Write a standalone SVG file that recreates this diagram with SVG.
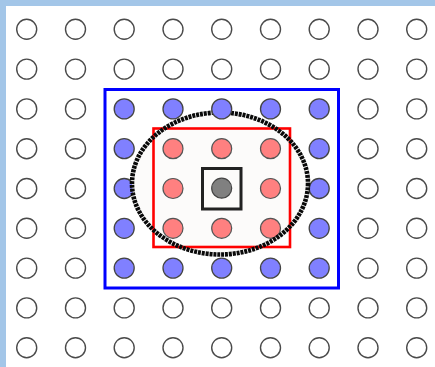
<svg xmlns="http://www.w3.org/2000/svg" width="435" height="367" viewBox="0 0 435 367">
<defs>
<style>
.w{fill:#fff;stroke:#4a4a4a;stroke-width:1.4}
.b{fill:#8080ff;stroke:#444;stroke-width:1.3}
.r{fill:#ff8080;stroke:#555;stroke-width:1.2}
.g{fill:#808080;stroke:#444;stroke-width:1.2}
</style>
</defs>
<rect x="0" y="0" width="435" height="367" fill="#a3c6e8"/>
<rect x="6" y="6" width="429" height="361" fill="#fff"/>
<g id="grid">
<g class="w">
<circle cx="26.7" cy="29.3" r="10"/><circle cx="75.5" cy="29.3" r="10"/><circle cx="124.2" cy="29.3" r="10"/><circle cx="173" cy="29.3" r="10"/><circle cx="221.7" cy="29.3" r="10"/><circle cx="270.5" cy="29.3" r="10"/><circle cx="319.2" cy="29.3" r="10"/><circle cx="368" cy="29.3" r="10"/><circle cx="416.7" cy="29.3" r="10"/>
<circle cx="26.7" cy="69.1" r="10"/><circle cx="75.5" cy="69.1" r="10"/><circle cx="124.2" cy="69.1" r="10"/><circle cx="173" cy="69.1" r="10"/><circle cx="221.7" cy="69.1" r="10"/><circle cx="270.5" cy="69.1" r="10"/><circle cx="319.2" cy="69.1" r="10"/><circle cx="368" cy="69.1" r="10"/><circle cx="416.7" cy="69.1" r="10"/>
<circle cx="26.7" cy="108.9" r="10"/><circle cx="75.5" cy="108.9" r="10"/><circle cx="368" cy="108.9" r="10"/><circle cx="416.7" cy="108.9" r="10"/>
<circle cx="26.7" cy="148.7" r="10"/><circle cx="75.5" cy="148.7" r="10"/><circle cx="368" cy="148.7" r="10"/><circle cx="416.7" cy="148.7" r="10"/>
<circle cx="26.7" cy="188.5" r="10"/><circle cx="75.5" cy="188.5" r="10"/><circle cx="368" cy="188.5" r="10"/><circle cx="416.7" cy="188.5" r="10"/>
<circle cx="26.7" cy="228.3" r="10"/><circle cx="75.5" cy="228.3" r="10"/><circle cx="368" cy="228.3" r="10"/><circle cx="416.7" cy="228.3" r="10"/>
<circle cx="26.7" cy="268.1" r="10"/><circle cx="75.5" cy="268.1" r="10"/><circle cx="368" cy="268.1" r="10"/><circle cx="416.7" cy="268.1" r="10"/>
<circle cx="26.7" cy="307.9" r="10"/><circle cx="75.5" cy="307.9" r="10"/><circle cx="124.2" cy="307.9" r="10"/><circle cx="173" cy="307.9" r="10"/><circle cx="221.7" cy="307.9" r="10"/><circle cx="270.5" cy="307.9" r="10"/><circle cx="319.2" cy="307.9" r="10"/><circle cx="368" cy="307.9" r="10"/><circle cx="416.7" cy="307.9" r="10"/>
<circle cx="26.7" cy="347.7" r="10"/><circle cx="75.5" cy="347.7" r="10"/><circle cx="124.2" cy="347.7" r="10"/><circle cx="173" cy="347.7" r="10"/><circle cx="221.7" cy="347.7" r="10"/><circle cx="270.5" cy="347.7" r="10"/><circle cx="319.2" cy="347.7" r="10"/><circle cx="368" cy="347.7" r="10"/><circle cx="416.7" cy="347.7" r="10"/>
</g>
</g>
<g id="outer">
<rect x="105" y="89.5" width="233.5" height="198.5" fill="none" stroke="#0000ff" stroke-width="3"/>
<g class="b">
<circle cx="124.2" cy="108.9" r="10"/><circle cx="173" cy="108.9" r="10"/><circle cx="270.5" cy="108.9" r="10"/><circle cx="319.2" cy="108.9" r="10"/>
<circle cx="124.2" cy="148.7" r="10"/><circle cx="319.2" cy="148.7" r="10"/>
<circle cx="124.2" cy="188.5" r="10"/><circle cx="319.2" cy="188.5" r="10"/>
<circle cx="124.2" cy="228.3" r="10"/><circle cx="319.2" cy="228.3" r="10"/>
<circle cx="124.2" cy="268.1" r="10"/><circle cx="173" cy="268.1" r="10"/><circle cx="221.7" cy="268.1" r="10"/><circle cx="270.5" cy="268.1" r="10"/><circle cx="319.2" cy="268.1" r="10"/>
</g>
</g>
<g id="region">
<ellipse cx="220" cy="183.5" rx="88" ry="71" fill="#fcfbfa"/>
<rect x="153.5" y="128.5" width="136.5" height="118.5" fill="none" stroke="#ff0000" stroke-width="2.6"/>
<g class="r">
<circle cx="173" cy="148.7" r="10"/><circle cx="221.7" cy="148.7" r="10"/><circle cx="270.5" cy="148.7" r="10"/>
<circle cx="173" cy="188.5" r="10"/><circle cx="270.5" cy="188.5" r="10"/>
<circle cx="173" cy="228.3" r="10"/><circle cx="221.7" cy="228.3" r="10"/><circle cx="270.5" cy="228.3" r="10"/>
</g>
<ellipse cx="220" cy="183.5" rx="88" ry="71" fill="none" stroke="#0a0a0a" stroke-width="4.6" stroke-dasharray="3 0.9"/>
<circle class="b" cx="221.7" cy="108.9" r="10"/>
</g>
<g id="center">
<rect x="202.5" y="168.5" width="38.5" height="40.5" fill="none" stroke="#222" stroke-width="3"/>
<circle class="g" cx="221.7" cy="188.2" r="10"/>
</g>
</svg>
